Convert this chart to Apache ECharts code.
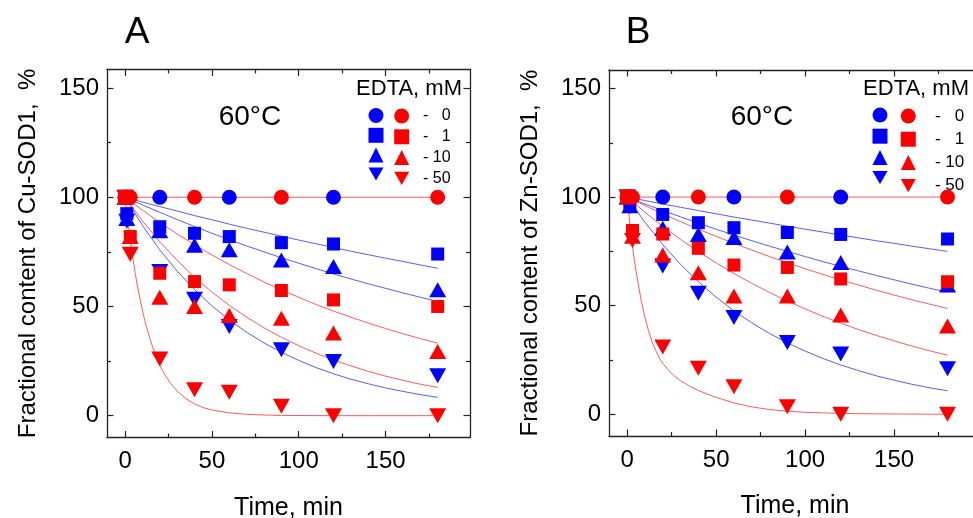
<!DOCTYPE html>
<html>
<head>
<meta charset="utf-8">
<script src="https://cdn.jsdelivr.net/npm/echarts@6/dist/echarts.min.js"></script>
<style>
html,body{margin:0;padding:0;background:#fff;}
#chart{width:973px;height:518px;}
</style>
</head>
<body>
<div id="chart"></div>
<script>
// ---------- data ----------
const concentrations = ['0', '1', '10', '50'];
const xMajorTicks = [0, 50, 100, 150];
const xMinorTicks = [25, 75, 125, 175];
const yMajorTicks = [0, 50, 100, 150];
const yMinorTicks = [25, 75, 125];

// Panel A (Cu-SOD1)
const blueTimesA = [0, 1, 20, 40, 60, 90, 120, 180];
const redTimesA = [0, 3, 20, 40, 60, 90, 120, 180];
const blue0TimesA = [0, 1, 20, 60, 120];
const blue0A = [100, 100, 100, 100, 100];
const blue1A = [100, 92.5, 86.5, 83.5, 82, 79.2, 78.6, 74];
const blue10A = [100, 90.3, 84.7, 78, 76, 71.3, 68.3, 57.6];
const blue50A = [100, 89, 66, 53.3, 40.8, 30.2, 24.8, 18.3];
const red0TimesA = [0, 3, 40, 90, 180];
const red0A = [100, 100, 100, 100, 100];
const red1A = [100, 82, 65.2, 61.4, 59.9, 57.3, 53, 50];
const red10A = [100, 82, 54.2, 50, 45.9, 44.6, 37.8, 29.4];
const red50A = [100, 73.9, 26, 11.9, 10.7, 4.3, 0, 0];

// Panel B (Zn-SOD1)
const blueTimesB = [0, 1.5, 20, 40, 60, 90, 120, 180];
const redTimesB = [0, 3, 20, 40, 60, 90, 120, 180];
const blue0TimesB = [0, 1.5, 20, 60, 120];
const blue0B = [100, 100, 100, 100, 100];
const blue1B = [100, 96, 92, 88.2, 85.9, 83.7, 82.8, 80.7];
const blue10B = [100, 96, 85.6, 82.8, 81.4, 74.7, 69.9, 59.5];
const blue50B = [100, 95.5, 68.3, 55.7, 44.5, 33, 27.8, 21];
const red0TimesB = [0, 3, 40, 90, 180];
const red0B = [100, 100, 100, 100, 100];
const red1B = [100, 84.6, 83, 76.4, 68.7, 67.6, 62.3, 61];
const red10B = [100, 82, 73.3, 65.2, 54.4, 54.4, 45.7, 40.6];
const red50B = [100, 80, 31, 21.2, 12.7, 3.5, 0, 0];

// fitted curves
const fitTimes = [0, 10, 20, 30, 40, 50, 60, 70, 80, 90, 100, 110, 120, 130, 140, 150, 160, 170, 180];
const flatFitTimes = [0, 180];
const flatFit = [100, 100];
const fitBlue1A = [100, 97.8, 95.7, 93.7, 91.6, 89.7, 87.7, 85.8, 84.0, 82.2, 80.4, 78.7, 77.0, 75.3, 73.7, 72.1, 70.6, 69.0, 67.5];
const fitBlue10A = [100, 96.5, 93.1, 89.8, 86.6, 83.5, 80.6, 77.7, 75.0, 72.3, 69.8, 67.3, 64.9, 62.6, 60.4, 58.3, 56.2, 54.2, 52.3];
const fitBlue50A = [100, 87.1, 75.9, 66.2, 57.7, 50.3, 43.8, 38.2, 33.3, 29.0, 25.3, 22.0, 19.2, 16.7, 14.6, 12.7, 11.1, 9.6, 8.4];
const fitRed1A = [100, 94.1, 88.5, 83.2, 78.3, 73.6, 69.2, 65.1, 61.2, 57.6, 54.2, 50.9, 47.9, 45.1, 42.4, 39.9, 37.5, 35.3, 33.2];
const fitRed10A = [100, 89.2, 79.6, 71.1, 63.4, 56.6, 50.5, 45.1, 40.2, 35.9, 32.0, 28.6, 25.5, 22.8, 20.3, 18.1, 16.2, 14.4, 12.9];
const fastFitTimes = [0, 2, 4, 6, 8, 10, 12, 14, 16, 18, 20, 23, 26, 30, 35, 40, 45, 50, 60, 70, 80, 90, 100, 120, 140, 160, 180];
const fitRed50A = [100, 86.4, 74.7, 64.5, 55.8, 48.2, 41.6, 36.0, 31.1, 26.9, 23.2, 18.6, 15.0, 11.2, 7.8, 5.4, 3.7, 2.6, 1.3, 0.6, 0.3, 0.1, 0.07, 0, 0, 0, 0];

const fitBlue1B = [100, 98.4, 96.8, 95.3, 93.8, 92.3, 90.8, 89.4, 88.0, 86.6, 85.2, 83.9, 82.5, 81.2, 79.9, 78.7, 77.4, 76.2, 75.0];
const fitBlue10B = [100, 96.8, 93.8, 90.9, 88.0, 85.2, 82.5, 79.9, 77.4, 75.0, 72.6, 70.3, 68.1, 66.0, 63.9, 61.9, 59.9, 58.0, 56.2];
const fitBlue50B = [100, 88.4, 78.1, 69.0, 61.0, 53.9, 47.6, 42.1, 37.2, 32.9, 29.1, 25.7, 22.7, 20.1, 17.7, 15.7, 13.8, 12.2, 10.8];
const fitRed1B = [100, 96.1, 92.3, 88.7, 85.2, 81.9, 78.7, 75.6, 72.6, 69.8, 67.0, 64.4, 61.9, 59.5, 57.1, 54.9, 52.7, 50.7, 48.7];
const fitRed10B = [100, 93.0, 86.5, 80.5, 74.9, 69.7, 64.8, 60.3, 56.1, 52.1, 48.5, 45.1, 42.0, 39.0, 36.3, 33.8, 31.4, 29.2, 27.2];
const fitRed50B = [100, 84, 71, 61, 52, 44.5, 38.5, 33.5, 29.5, 26, 23.5, 20.5, 18, 15.5, 13, 11, 9.3, 7.8, 5.2, 3.4, 2.2, 1.4, 0.9, 0.4, 0.2, 0.1, 0];

// ---------- styling ----------
const FONT = 'Liberation Sans, Arial, Helvetica, sans-serif';
const BLUE = '#0000ff';
const RED = '#ff0000';
const BLUE_LINE = '#5b5bff';
const RED_LINE = '#ff5a5a';
const AXIS_COLOR = '#222';
const DOWN_TRI = 'path://M0,0L16,0L8,14Z';
const symbols = ['circle', 'rect', 'triangle', DOWN_TRI];
const sizes = [15, 13, [17, 15], [17, 15]];

const zip = (xs, ys) => xs.map((x, i) => [x, ys[i]]);
// legend label: dash column then right-aligned number (one digit = two spaces in Arial metrics)
const legendLabel = (lead, num) => lead + '-' + (num.length === 1 ? '   ' : ' ') + num;

const panels = [
  {
    key: 'A', grid: {left: 107, top: 69.5, width: 363, height: 368},
    xMin: -10.4, xMax: 198.6, yName: 'Fractional content of Cu-SOD1,  %',
    blue: [[blue0TimesA, blue0A], [blueTimesA, blue1A], [blueTimesA, blue10A], [blueTimesA, blue50A]],
    red: [[red0TimesA, red0A], [redTimesA, red1A], [redTimesA, red10A], [redTimesA, red50A]],
    blueFits: [[fitTimes, fitBlue1A], [fitTimes, fitBlue10A], [fitTimes, fitBlue50A]],
    redFits: [[flatFitTimes, flatFit], [fitTimes, fitRed1A], [fitTimes, fitRed10A], [fastFitTimes, fitRed50A]],
    legend: {blueLeft: 368.5, redLeft: 394.2, top: 108, gap: 4.8, lead: '  ', font: 16},
    label: {x: 137, text: 'A'}, temp: {x: 250}, edta: {x: 462}
  },
  {
    key: 'B', grid: {left: 609, top: 70, width: 372, height: 366},
    xMin: -10.2, xMax: 198.8, yName: 'Fractional content of Zn-SOD1,  %',
    blue: [[blue0TimesB, blue0B], [blueTimesB, blue1B], [blueTimesB, blue10B], [blueTimesB, blue50B]],
    red: [[red0TimesB, red0B], [redTimesB, red1B], [redTimesB, red10B], [redTimesB, red50B]],
    blueFits: [[fitTimes, fitBlue1B], [fitTimes, fitBlue10B], [fitTimes, fitBlue50B]],
    redFits: [[flatFitTimes, flatFit], [fitTimes, fitRed1B], [fitTimes, fitRed10B], [fastFitTimes, fitRed50B]],
    legend: {blueLeft: 872.5, redLeft: 900.8, top: 107.5, gap: 6.2, lead: '   ', font: 17},
    label: {x: 638, text: 'B'}, temp: {x: 762}, edta: {x: 969}
  }
];

const grids = [], xAxes = [], yAxes = [], series = [], legends = [], graphics = [];

panels.forEach((p, gi) => {
  grids.push(Object.assign({containLabel: false, outerBoundsMode: 'none'}, p.grid));
  const line = {show: true, onZero: false, lineStyle: {color: AXIS_COLOR, width: 1.3}};
  const noLine = {show: false, onZero: false};
  const tickStyle = {color: AXIS_COLOR, width: 1.2};
  const base = (dim) => ({type: 'value', gridIndex: gi, splitLine: {show: false},
    min: dim === 'x' ? p.xMin : -10, max: dim === 'x' ? p.xMax : 158.5});
  const major = (dim) => dim === 'x' ? xMajorTicks : yMajorTicks;
  const minor = (dim) => dim === 'x' ? xMinorTicks : yMinorTicks;
  ['x', 'y'].forEach(dim => {
    const pos = dim === 'x' ? ['bottom', 'top'] : ['left', 'right'];
    const arr = dim === 'x' ? xAxes : yAxes;
    arr.push(Object.assign(base(dim), {
      position: pos[0], axisLine: line,
      axisTick: {show: true, inside: true, length: 6.5, customValues: major(dim), lineStyle: tickStyle},
      axisLabel: {show: true, customValues: major(dim), color: '#000', fontFamily: FONT, fontSize: 24,
        margin: dim === 'x' ? 12 : 8},
      name: dim === 'x' ? 'Time, min' : p.yName,
      nameLocation: 'middle', nameGap: dim === 'x' ? 58 : 67,
      nameTextStyle: {color: '#000', fontFamily: FONT, fontSize: dim === 'x' ? 25 : 24}
    }));
    arr.push(Object.assign(base(dim), {
      position: pos[0], axisLine: noLine,
      axisTick: {show: true, inside: true, length: 4, customValues: minor(dim), lineStyle: tickStyle},
      axisLabel: {show: false}
    }));
    arr.push(Object.assign(base(dim), {
      position: pos[1], axisLine: line,
      axisTick: {show: true, inside: true, length: 6.5, customValues: major(dim), lineStyle: tickStyle},
      axisLabel: {show: false}
    }));
    arr.push(Object.assign(base(dim), {
      position: pos[1], axisLine: noLine,
      axisTick: {show: true, inside: true, length: 4, customValues: minor(dim), lineStyle: tickStyle},
      axisLabel: {show: false}
    }));
  });
  const xi = gi * 4, yi = gi * 4;

  p.blueFits.forEach((f, i) => series.push({
    type: 'line', name: p.key + ' fit blue ' + i, xAxisIndex: xi, yAxisIndex: yi,
    data: zip(f[0], f[1]), symbol: 'none', smooth: false,
    lineStyle: {color: BLUE_LINE, width: 1}, z: 1, silent: true
  }));
  p.redFits.forEach((f, i) => series.push({
    type: 'line', name: p.key + ' fit red ' + i, xAxisIndex: xi, yAxisIndex: yi,
    data: zip(f[0], f[1]), symbol: 'none', smooth: false,
    lineStyle: {color: RED_LINE, width: 1}, z: 1, silent: true
  }));
  const blueNames = [], redNames = [];
  p.blue.forEach((d, i) => {
    const name = p.key + ' blue ' + concentrations[i];
    blueNames.push(name);
    series.push({type: 'scatter', name, xAxisIndex: xi, yAxisIndex: yi, data: zip(d[0], d[1]),
      symbol: symbols[i], symbolSize: sizes[i], itemStyle: {color: BLUE, opacity: 1}, z: 3});
  });
  p.red.forEach((d, i) => {
    const name = p.key + ' red ' + concentrations[i];
    redNames.push(name);
    series.push({type: 'scatter', name, xAxisIndex: xi, yAxisIndex: yi, data: zip(d[0], d[1]),
      symbol: symbols[i], symbolSize: sizes[i], itemStyle: {color: RED, opacity: 1}, z: 4});
  });
  const L = p.legend;
  legends.push({
    data: blueNames, orient: 'vertical', left: L.blueLeft, top: L.top, itemWidth: 15, itemHeight: 15,
    itemGap: L.gap, selectedMode: false, formatter: () => '', padding: 0, align: 'left',
    textStyle: {fontSize: 10, lineHeight: 15}
  });
  legends.push({
    data: redNames, orient: 'vertical', left: L.redLeft, top: L.top, itemWidth: 15, itemHeight: 15,
    itemGap: L.gap, selectedMode: false, padding: 0, align: 'left',
    formatter: (name) => legendLabel(L.lead, name.split(' ').pop()),
    textStyle: {color: '#000', fontFamily: FONT, fontSize: L.font, lineHeight: 15}
  });
  graphics.push({type: 'text', x: p.label.x, y: 33, style: {text: p.label.text, font: '37px ' + FONT,
    fill: '#000', textAlign: 'center', textVerticalAlign: 'middle'}});
  graphics.push({type: 'text', x: p.temp.x, y: 117, style: {text: '60°C', font: '28px ' + FONT,
    fill: '#000', textAlign: 'center', textVerticalAlign: 'middle'}});
  graphics.push({type: 'text', x: p.edta.x, y: 89, style: {text: 'EDTA, mM', font: '22px ' + FONT,
    fill: '#000', textAlign: 'right', textVerticalAlign: 'middle'}});
});

const chart = echarts.init(document.getElementById('chart'), null, {renderer: 'canvas'});
chart.setOption({
  animation: false,
  backgroundColor: '#fff',
  grid: grids,
  xAxis: xAxes,
  yAxis: yAxes,
  legend: legends,
  graphic: graphics,
  series: series
});
</script>
</body>
</html>
